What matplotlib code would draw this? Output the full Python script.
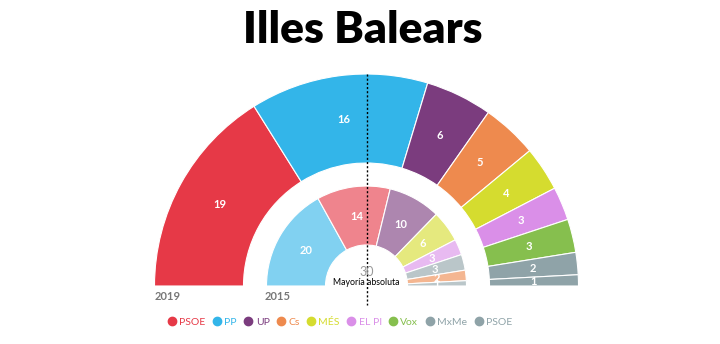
import numpy as np
import matplotlib.pyplot as plt
from matplotlib.patches import Wedge, Rectangle
from matplotlib.lines import Line2D
from matplotlib.colors import to_rgb

plt.rcParams['font.family'] = ['Lato', 'DejaVu Sans']

# datos
seats_2019 = [19, 16, 6, 5, 4, 3, 3, 2, 1]
colors_2019 = ['#E63947', '#33B5E9', '#7B3C7E', '#EE8A4E', '#D5DC2F',
               '#DA8FE8', '#86BF4E', '#8FA3A8', '#8FA3A8']

seats_2015 = [20, 14, 10, 6, 3, 3, 2, 1]
colors_2015 = ['#33B5E9', '#E63947', '#7B3C7E', '#D5DC2F', '#DA8FE8',
               '#8FA3A8', '#EE8A4E', '#8FA3A8']

legend_labels = ['PSOE', 'PP', 'UP', 'Cs', 'MÉS', 'EL PI', 'Vox', 'MxMe', 'PSOE']
legend_colors = colors_2019
majority = 30
title = 'Illes Balears'

W, H = 720, 344
fig = plt.figure(figsize=(W / 100, H / 100), dpi=100)
ax = fig.add_axes([0, 0, 1, 1])
ax.set_xlim(0, W)
ax.set_ylim(0, H)
ax.axis('off')

cx, cy = 366.5, H - 286  # centro del hemiciclo


def lighten(c, a=0.62):
    r, g, b = to_rgb(c)
    return (a * r + 1 - a, a * g + 1 - a, a * b + 1 - a)


def ring(seats, colors, r_out, r_in, fs):
    total = sum(seats)
    clip = Rectangle((0, cy), W, H, transform=ax.transData, visible=False)
    ax.add_patch(clip)
    start = 180.0
    for s, c in zip(seats, colors):
        ang = s / total * 180.0
        end = start - ang
        ax.add_patch(Wedge((cx, cy), r_out, end, start, width=r_out - r_in,
                           facecolor=c, edgecolor='white', linewidth=0.8))
        mid = np.radians((start + end) / 2)
        rm = (r_out + r_in) / 2
        t = ax.text(cx + rm * np.cos(mid), cy + rm * np.sin(mid), str(s),
                    color='white', fontsize=fs, fontweight='bold',
                    ha='center', va='center')
        t.set_clip_path(clip)
        start = end


ring(seats_2019, colors_2019, 212, 123, 8)
ring(seats_2015, [lighten(c) for c in colors_2015], 100, 41, 8)

# línea de mayoría
ax.plot([cx, cx], [H - 74, H - 305], color='black', linestyle=(0, (1.5, 1.5)), linewidth=1)
ax.text(cx, H - 272, str(majority), color='#999999', fontsize=9,
        ha='center', va='center')
ax.text(cx, H - 282.5, 'Mayoría absoluta', color='black', fontsize=6.3,
        ha='center', va='center')

ax.text(155, H - 296, '2019', color='#777777', fontsize=8, fontweight='bold',
        ha='left', va='center')
ax.text(265, H - 296, '2015', color='#777777', fontsize=8, fontweight='bold',
        ha='left', va='center')

ax.text(W / 2 + 3, H - 30, title, color='black', fontsize=32, fontweight='heavy',
        ha='center', va='center')

handles = [Line2D([], [], marker='o', linestyle='', markersize=6,
                  markerfacecolor=c, markeredgecolor=c) for c in legend_colors]
leg = fig.legend(handles, legend_labels, loc='center', ncol=len(legend_labels),
                 bbox_to_anchor=(340 / W, 1 - 322 / H), frameon=False,
                 fontsize=7.5, handletextpad=0.3, columnspacing=0.7,
                 handlelength=0.8, labelcolor=legend_colors)

fig.savefig('out.png', dpi=100)
